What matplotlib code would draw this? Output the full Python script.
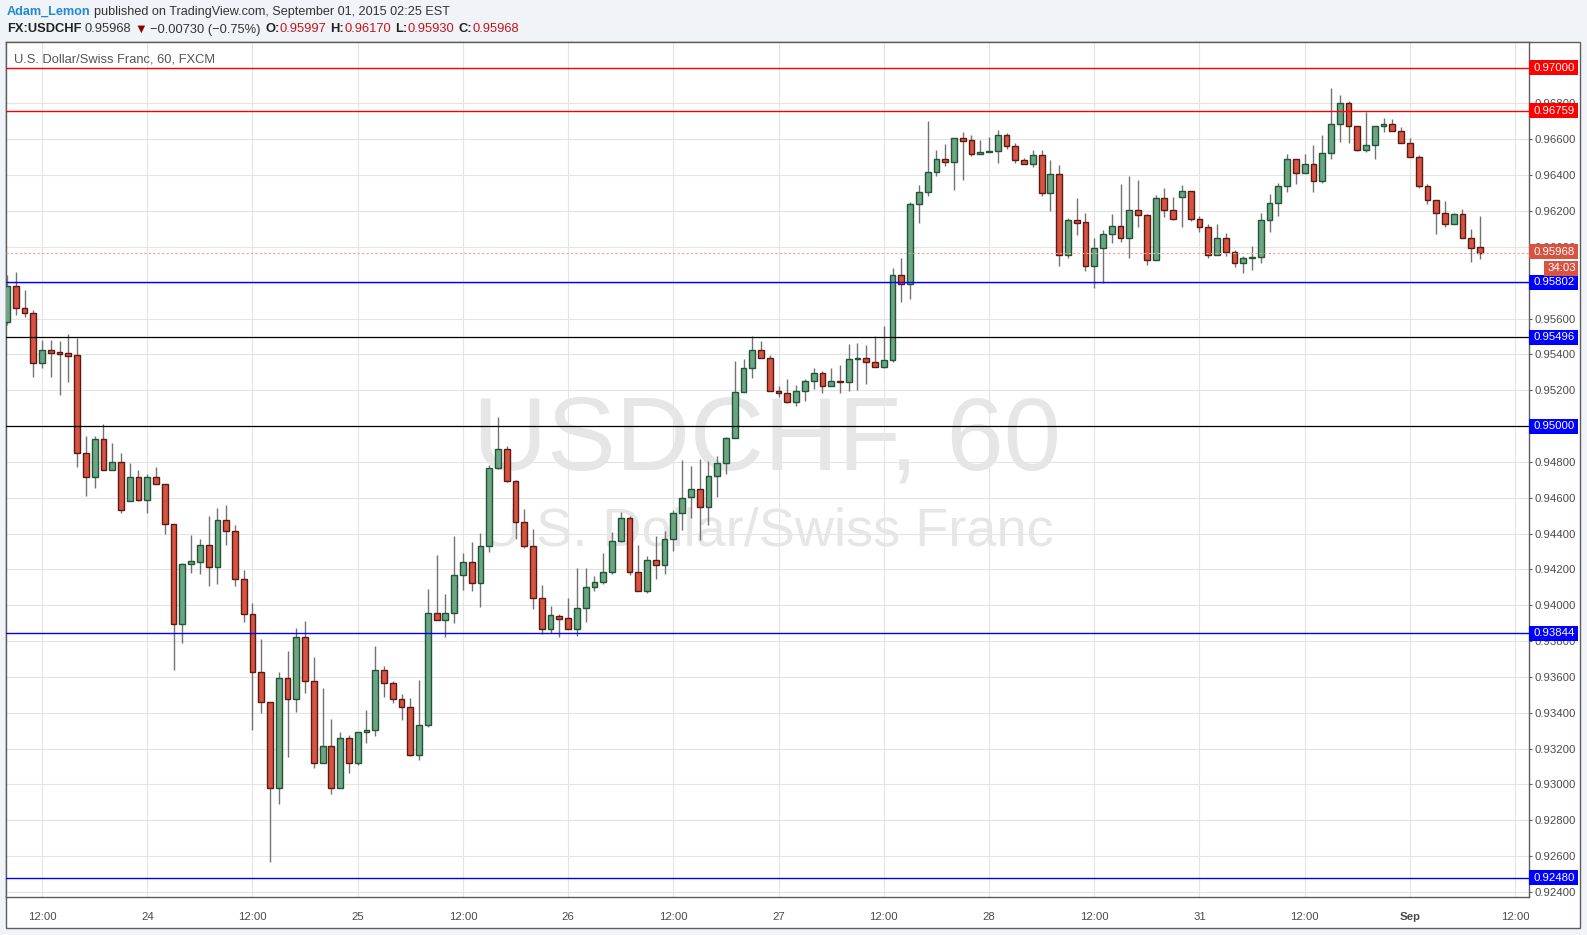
import matplotlib
matplotlib.use('Agg')
import matplotlib.pyplot as plt
from matplotlib.patches import Rectangle
from matplotlib.transforms import blended_transform_factory, Bbox, TransformedBbox
from matplotlib.ticker import FormatStrFormatter
import numpy as np

# ---------------- data (hourly USDCHF candles) ----------------
opens = [0.95578, 0.95780, 0.95661, 0.95628, 0.95354, 0.95427, 0.95412, 0.95405, 0.95394, 0.94852,
         0.94713, 0.94930, 0.94757, 0.94802, 0.94584, 0.94718, 0.94590, 0.94713, 0.94674, 0.94456,
         0.93897, 0.94232, 0.94243, 0.94338, 0.94215, 0.94477, 0.94416, 0.94144, 0.93953, 0.93629,
         0.93462, 0.92982, 0.93596, 0.93478, 0.93824, 0.93579, 0.93121, 0.93216, 0.92982, 0.93260,
         0.93120, 0.93293, 0.93301, 0.93639, 0.93567, 0.93474, 0.93433, 0.93163, 0.93332, 0.93957,
         0.93917, 0.93957, 0.94169, 0.94242, 0.94125, 0.94333, 0.94767, 0.94873, 0.94696, 0.94462,
         0.94333, 0.94038, 0.93865, 0.93941, 0.93926, 0.93870, 0.93982, 0.94104, 0.94132, 0.94188,
         0.94361, 0.94484, 0.94188, 0.94077, 0.94255, 0.94223, 0.94367, 0.94512, 0.94604, 0.94648,
         0.94548, 0.94723, 0.94794, 0.94933, 0.95192, 0.95324, 0.95424, 0.95379, 0.95195, 0.95184,
         0.95134, 0.95197, 0.95251, 0.95296, 0.95223, 0.95253, 0.95246, 0.95374, 0.95378, 0.95356,
         0.95328, 0.95367, 0.95841, 0.95791, 0.96237, 0.96304, 0.96416, 0.96488, 0.96472, 0.96606,
         0.96594, 0.96516, 0.96527, 0.96535, 0.96624, 0.96561, 0.96483, 0.96460, 0.96515, 0.96303,
         0.96409, 0.95952, 0.96147, 0.96136, 0.95894, 0.95996, 0.96069, 0.96114, 0.96052, 0.96208,
         0.96175, 0.95929, 0.96270, 0.96208, 0.96279, 0.96309, 0.96158, 0.96108, 0.95957, 0.96052,
         0.95972, 0.95907, 0.95935, 0.95941, 0.96147, 0.96242, 0.96342, 0.96488, 0.96413, 0.96465,
         0.96370, 0.96521, 0.96683, 0.96800, 0.96677, 0.96543, 0.96566, 0.96677, 0.96688, 0.96649,
         0.96582, 0.96504, 0.96342, 0.96264, 0.96186, 0.96125, 0.96181, 0.96052, 0.95997]
highs = [0.95842, 0.95857, 0.95758, 0.95647, 0.95479, 0.95479, 0.95474, 0.95513, 0.95494, 0.94943,
         0.94943, 0.95014, 0.94908, 0.94847, 0.94791, 0.94754, 0.94735, 0.94770, 0.94674, 0.94456,
         0.94237, 0.94390, 0.94371, 0.94498, 0.94540, 0.94557, 0.94446, 0.94196, 0.94010, 0.93813,
         0.93462, 0.93629, 0.93743, 0.93871, 0.93914, 0.93713, 0.93536, 0.93363, 0.93292, 0.93275,
         0.93293, 0.93418, 0.93771, 0.93660, 0.93576, 0.93507, 0.93483, 0.93580, 0.94088, 0.94283,
         0.94060, 0.94385, 0.94292, 0.94352, 0.94404, 0.94785, 0.95049, 0.94891, 0.94701, 0.94536,
         0.94428, 0.94112, 0.93998, 0.93950, 0.94038, 0.94205, 0.94210, 0.94162, 0.94290, 0.94406,
         0.94523, 0.94497, 0.94335, 0.94272, 0.94389, 0.94417, 0.94534, 0.94813, 0.94779, 0.94816,
         0.94803, 0.94831, 0.94939, 0.95365, 0.95374, 0.95504, 0.95476, 0.95398, 0.95225, 0.95264,
         0.95229, 0.95262, 0.95326, 0.95305, 0.95326, 0.95342, 0.95456, 0.95462, 0.95452, 0.95503,
         0.95558, 0.95880, 0.95938, 0.96250, 0.96345, 0.96702, 0.96540, 0.96574, 0.96606, 0.96641,
         0.96624, 0.96596, 0.96615, 0.96652, 0.96633, 0.96578, 0.96494, 0.96540, 0.96540, 0.96484,
         0.96456, 0.96160, 0.96272, 0.96190, 0.96052, 0.96093, 0.96182, 0.96350, 0.96394, 0.96372,
         0.96182, 0.96288, 0.96327, 0.96277, 0.96344, 0.96309, 0.96171, 0.96130, 0.96127, 0.96078,
         0.95982, 0.95948, 0.96004, 0.96190, 0.96294, 0.96357, 0.96517, 0.96488, 0.96517, 0.96567,
         0.96623, 0.96884, 0.96847, 0.96813, 0.96677, 0.96753, 0.96677, 0.96718, 0.96713, 0.96666,
         0.96605, 0.96510, 0.96348, 0.96264, 0.96253, 0.96186, 0.96209, 0.96102, 0.96170]
lows = [0.95563, 0.95619, 0.95609, 0.95275, 0.95325, 0.95275, 0.95172, 0.95247, 0.94772, 0.94609,
        0.94655, 0.94757, 0.94757, 0.94512, 0.94584, 0.94583, 0.94512, 0.94674, 0.94400, 0.93641,
        0.93791, 0.94178, 0.94172, 0.94107, 0.94118, 0.94336, 0.94107, 0.93906, 0.93304, 0.93397,
        0.92567, 0.92893, 0.93155, 0.93406, 0.93512, 0.93092, 0.93121, 0.92948, 0.92982, 0.93065,
        0.93111, 0.93232, 0.93269, 0.93487, 0.93452, 0.93358, 0.93158, 0.93135, 0.93320, 0.93917,
        0.93820, 0.93902, 0.94084, 0.94078, 0.93989, 0.94296, 0.94761, 0.94687, 0.94367, 0.94322,
        0.93978, 0.93842, 0.93846, 0.93820, 0.93870, 0.93831, 0.93909, 0.94077, 0.94121, 0.94177,
        0.94355, 0.94170, 0.94077, 0.94071, 0.94147, 0.94177, 0.94303, 0.94421, 0.94487, 0.94362,
        0.94449, 0.94602, 0.94732, 0.94933, 0.95192, 0.95268, 0.95379, 0.95195, 0.95162, 0.95128,
        0.95110, 0.95138, 0.95206, 0.95182, 0.95223, 0.95184, 0.95193, 0.95201, 0.95235, 0.95328,
        0.95322, 0.95360, 0.95694, 0.95709, 0.96135, 0.96284, 0.96395, 0.96453, 0.96317, 0.96373,
        0.96507, 0.96516, 0.96527, 0.96470, 0.96548, 0.96470, 0.96460, 0.96447, 0.96285, 0.96201,
        0.95894, 0.95939, 0.96067, 0.95866, 0.95771, 0.95796, 0.96019, 0.96028, 0.95939, 0.96112,
        0.95900, 0.95929, 0.96167, 0.96149, 0.96112, 0.96145, 0.96084, 0.95939, 0.95957, 0.95950,
        0.95889, 0.95855, 0.95870, 0.95911, 0.96084, 0.96173, 0.96306, 0.96348, 0.96413, 0.96307,
        0.96357, 0.96491, 0.96586, 0.96581, 0.96536, 0.96530, 0.96491, 0.96642, 0.96649, 0.96577,
        0.96504, 0.96331, 0.96240, 0.96069, 0.96112, 0.96125, 0.96052, 0.95917, 0.95930]
closes = [0.95780, 0.95661, 0.95628, 0.95354, 0.95427, 0.95410, 0.95403, 0.95392, 0.94852, 0.94713,
          0.94930, 0.94757, 0.94802, 0.94534, 0.94718, 0.94590, 0.94713, 0.94674, 0.94456, 0.93893,
          0.94232, 0.94245, 0.94338, 0.94215, 0.94477, 0.94416, 0.94144, 0.93953, 0.93629, 0.93462,
          0.92982, 0.93596, 0.93478, 0.93824, 0.93579, 0.93121, 0.93216, 0.92982, 0.93261, 0.93120,
          0.93293, 0.93301, 0.93639, 0.93567, 0.93474, 0.93433, 0.93163, 0.93332, 0.93957, 0.93917,
          0.93957, 0.94169, 0.94242, 0.94125, 0.94333, 0.94767, 0.94873, 0.94696, 0.94465, 0.94333,
          0.94038, 0.93865, 0.93943, 0.93924, 0.93870, 0.93982, 0.94104, 0.94132, 0.94188, 0.94361,
          0.94484, 0.94188, 0.94077, 0.94255, 0.94223, 0.94367, 0.94512, 0.94601, 0.94648, 0.94548,
          0.94723, 0.94794, 0.94933, 0.95192, 0.95324, 0.95424, 0.95379, 0.95195, 0.95184, 0.95134,
          0.95197, 0.95251, 0.95296, 0.95223, 0.95251, 0.95246, 0.95374, 0.95378, 0.95356, 0.95328,
          0.95367, 0.95841, 0.95791, 0.96237, 0.96304, 0.96416, 0.96488, 0.96472, 0.96606, 0.96593,
          0.96516, 0.96527, 0.96535, 0.96624, 0.96561, 0.96483, 0.96460, 0.96515, 0.96303, 0.96409,
          0.95952, 0.96147, 0.96134, 0.95894, 0.95996, 0.96069, 0.96114, 0.96052, 0.96208, 0.96175,
          0.95929, 0.96270, 0.96208, 0.96158, 0.96309, 0.96158, 0.96108, 0.95957, 0.96052, 0.95972,
          0.95907, 0.95935, 0.95941, 0.96147, 0.96242, 0.96342, 0.96488, 0.96413, 0.96465, 0.96370,
          0.96521, 0.96683, 0.96800, 0.96677, 0.96543, 0.96566, 0.96677, 0.96688, 0.96649, 0.96582,
          0.96504, 0.96342, 0.96264, 0.96186, 0.96125, 0.96181, 0.96052, 0.95991, 0.95968]

time_tick_index = [4, 16, 28, 40, 52, 64, 76, 88, 100, 112, 124, 136, 148, 160, 172]
time_tick_labels = ["12:00", "24", "12:00", "25", "12:00", "26", "12:00", "27",
                    "12:00", "28", "12:00", "31", "12:00", "Sep", "12:00"]
price_ticks = [0.924, 0.926, 0.928, 0.930, 0.932, 0.934, 0.936, 0.938, 0.940, 0.942, 0.944,
               0.946, 0.948, 0.950, 0.952, 0.954, 0.956, 0.958, 0.960, 0.962, 0.964, 0.966, 0.968]
red_levels = [0.97000, 0.96759]
blue_levels = [0.95802, 0.93844, 0.92480]
black_levels = [0.95496, 0.95000]
black_level_label_color = "#0000ff"
last_price = 0.95968
countdown = "34:03"
y_range = (0.923718, 0.971447)

# ---------------- layout ----------------
W, H = 1587, 935
BG = "#f0f3f7"
fig = plt.figure(figsize=(W / 100, H / 100), dpi=100, facecolor=BG)


def fx(px):
    return px / W


def fy(py):
    return 1 - py / H


PL, PT, PR, PB = 6.0, 41.7, 1528.7, 897.0   # price pane (pixels)
FR, FB = 1580.0, 928.0                        # outer white panel right/bottom

fig.add_artist(Rectangle((fx(PL), fy(FB)), fx(FR) - fx(PL), fy(PT) - fy(FB),
                         transform=fig.transFigure, facecolor="white",
                         edgecolor="#5d5d5d", lw=1.0, zorder=-5))

ax = fig.add_axes([fx(PL), fy(PB), fx(PR) - fx(PL), fy(PT) - fy(PB)])
ax.set_facecolor("white")
ax.set_xlim(-0.11, 173.55)
ax.set_ylim(*y_range)

AXFONT = ["Liberation Sans", "DejaVu Sans"]
LABEL_COLOR = "#4a4a4a"

# grid
ax.set_yticks(price_ticks)
ax.set_xticks(time_tick_index)
ax.set_xticklabels([""] * len(time_tick_index))
ax.grid(True, color="#e4e4e4", lw=0.8, zorder=0)
ax.set_axisbelow(True)
ax.yaxis.tick_right()
ax.yaxis.set_major_formatter(FormatStrFormatter("%.5f"))
ax.tick_params(axis="y", which="both", left=False, right=True, length=2.5, width=0.8,
               color="#5d5d5d", pad=1.8, labelsize=8.2, labelcolor=LABEL_COLOR)
ax.tick_params(axis="x", length=0, labelsize=1)
for lab in ax.get_yticklabels():
    lab.set_family(AXFONT)
for sp in ax.spines.values():
    sp.set_color("#5d5d5d")
    sp.set_linewidth(1.0)

# watermark
ax.text(fx(767), fy(443), "USDCHF, 60", transform=fig.transFigure, ha="center", va="center",
        fontsize=74, color="#e6e6e6", family=AXFONT, zorder=1)
ax.text(fx(768), fy(532), "U.S. Dollar/Swiss Franc", transform=fig.transFigure, ha="center",
        va="center", fontsize=39, color="#e6e6e6", family=AXFONT, zorder=1)

# candles
o = np.array(opens)
h = np.array(highs)
l = np.array(lows)
c = np.array(closes)
idx = np.arange(len(o))
up = c >= o
ax.vlines(idx, l, h, color="#737375", lw=1.0, zorder=3)
bb = np.minimum(o, c)
bh = np.maximum(np.abs(c - o), 0.00005)
ax.bar(idx[up], bh[up], bottom=bb[up], width=0.66, color="#6ba583", edgecolor="#225437",
       lw=1.0, zorder=4)
ax.bar(idx[~up], bh[~up], bottom=bb[~up], width=0.66, color="#d75442", edgecolor="#5b1a13",
       lw=1.0, zorder=4)

# horizontal levels
for p in red_levels:
    ax.axhline(p, color="#ff0000", lw=1.0, zorder=5)
for p in blue_levels:
    ax.axhline(p, color="#0000ff", lw=1.0, zorder=5)
for p in black_levels:
    ax.axhline(p, color="#000000", lw=0.9, zorder=5)
ax.axhline(last_price, color="#f0a094", lw=0.8, ls=(0, (2, 2)), zorder=5)

# pane title
ax.text(fx(14), fy(60), "U.S. Dollar/Swiss Franc, 60, FXCM", transform=fig.transFigure,
        ha="left", va="center", fontsize=9.3, color="#555555", family=AXFONT, zorder=6)

# time labels (clipped at price axis)
clipbox = TransformedBbox(Bbox([[0, -0.2], [1, 0]]), ax.transAxes)
tx = blended_transform_factory(ax.transData, fig.transFigure)
for pos, lab in zip(time_tick_index, time_tick_labels):
    t = ax.text(pos, fy(917), lab, transform=tx, ha="center", va="center", fontsize=8.2,
                color=LABEL_COLOR, family=AXFONT,
                fontweight="bold" if lab == "Sep" else "normal")
    t.set_clip_box(clipbox)
    t.set_clip_on(True)

# price-axis label boxes
data_per_px = (y_range[1] - y_range[0]) / (PB - PT)
bt = blended_transform_factory(fig.transFigure, ax.transData)


def price_box(p, fc, text, x0=PR, x1=1577.7, ypix_off=0.0, hpx=15.0):
    yc = p - ypix_off * data_per_px
    fig.add_artist(Rectangle((fx(x0), yc - hpx / 2 * data_per_px), fx(x1) - fx(x0),
                             hpx * data_per_px, transform=bt, facecolor=fc, edgecolor="none",
                             zorder=10))
    fig.add_artist(plt.Text(fx((x0 + x1) / 2 + 1), yc, text, transform=bt, ha="center",
                            va="center", color="white", fontsize=8.2, family=AXFONT,
                            zorder=11))


for p in red_levels:
    price_box(p, "#ff0000", f"{p:.5f}")
for p in blue_levels:
    price_box(p, "#0000ff", f"{p:.5f}")
for p in black_levels:
    price_box(p, black_level_label_color, f"{p:.5f}")
price_box(last_price, "#d75442", f"{last_price:.5f}", ypix_off=-1.0)
price_box(last_price, "#d75442", countdown, x0=1544.0, ypix_off=15.5)

# ---------------- header ----------------
renderer = fig.canvas.get_renderer()
HFONT = ["Liberation Sans", "DejaVu Sans"]


def draw_line(x0, y, parts, target_w, fs0):
    def render(fs):
        arts = []
        x = x0
        for txt, kw, gap in parts:
            t = fig.text(fx(x), fy(y), txt, ha="left", va="center", fontsize=fs,
                         family=HFONT, **kw)
            w = t.get_window_extent(renderer=renderer).width
            x += w + gap * fs
            arts.append(t)
        return arts, x - x0
    arts, w = render(fs0)
    for a in arts:
        a.remove()
    render(fs0 * target_w / w)


draw_line(7, 12, [
    ("Adam_Lemon", dict(color="#1f8ad0", fontweight="bold"), 0.36),
    ("published on TradingView.com, September 01, 2015 02:25 EST", dict(color="#333333"), 0.0),
], 442, 9.5)

RED = "#c0161c"
draw_line(7, 29.5, [
    ("FX:USDCHF", dict(color="#222222", fontweight="bold"), 0.36),
    ("0.95968", dict(color="#333333"), 0.36),
    ("\u25bc", dict(color="#8b0000"), 0.3),
    ("\u22120.00730 (\u22120.75%)", dict(color="#333333"), 0.45),
    ("O:", dict(color="#222222", fontweight="bold"), 0.05),
    ("0.95997", dict(color=RED), 0.4),
    ("H:", dict(color="#222222", fontweight="bold"), 0.05),
    ("0.96170", dict(color=RED), 0.4),
    ("L:", dict(color="#222222", fontweight="bold"), 0.05),
    ("0.95930", dict(color=RED), 0.4),
    ("C:", dict(color="#222222", fontweight="bold"), 0.05),
    ("0.95968", dict(color=RED), 0.0),
], 513, 9.5)

fig.savefig("out.png", dpi=100, facecolor=BG)
